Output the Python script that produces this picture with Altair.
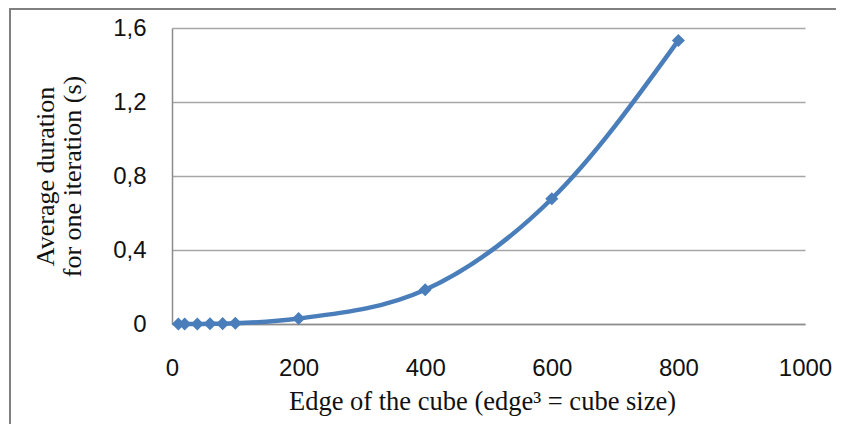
import altair as alt
import pandas as pd

edge = [10, 20, 40, 60, 80, 100, 200, 400, 600, 800]
duration = [0.0, 0.0, 0.0005, 0.001, 0.002, 0.004, 0.03, 0.185, 0.677, 1.533]

df = pd.DataFrame({"edge": edge, "duration": duration})

x_ticks = [0, 200, 400, 600, 800, 1000]
y_ticks = [0, 0.4, 0.8, 1.2, 1.6]

BLUE = "#4a7ebb"
TICK_FONT = "Liberation Sans"
TITLE_FONT = "Liberation Serif"

x_enc = alt.X(
    "edge:Q",
    scale=alt.Scale(domain=[0, 1000], nice=False),
    axis=alt.Axis(
        values=x_ticks,
        format="d",
        title="Edge of the cube (edge\u00b3 = cube size)",
        grid=False,
        ticks=False,
        domainColor="#8c8c8c",
        domainWidth=1.5,
        labelFont=TICK_FONT,
        labelFontSize=24,
        labelColor="#111111",
        labelPadding=32,
        labelFlush=False,
        titleFont=TITLE_FONT,
        titleFontSize=26.5,
        titleFontWeight="normal",
        titleColor="#111111",
        titleX=310,
        titleY=85,
        titleBaseline="alphabetic",
        titleAlign="center",
    ),
)

y_enc = alt.Y(
    "duration:Q",
    scale=alt.Scale(domain=[0, 1.6], nice=False),
    axis=alt.Axis(
        values=y_ticks,
        labelExpr="datum.value == 0 ? '0' : replace(format(datum.value, '.1f'), '.', ',')",
        title=["Average duration", "for one iteration (s)"],
        grid=True,
        gridColor="#a6a6a6",
        gridWidth=1.5,
        ticks=False,
        domainColor="#8c8c8c",
        domainWidth=1.5,
        labelFont=TICK_FONT,
        labelFontSize=24,
        labelColor="#111111",
        labelPadding=26,
        labelFlush=False,
        titleFont=TITLE_FONT,
        titleFontSize=26,
        titleFontWeight="normal",
        titleColor="#111111",
        titleAngle=-90,
        titleX=-119,
        titleY=148,
        titleBaseline="alphabetic",
        titleAlign="center",
        titleLineHeight=27,
    ),
)

line = alt.Chart(df).mark_line(
    interpolate="monotone", color=BLUE, strokeWidth=4.5
).encode(x=x_enc, y=y_enc)

points = alt.Chart(df).mark_point(
    shape="diamond", filled=True, color=BLUE, size=170, opacity=1
).encode(x="edge:Q", y="duration:Q")

frame = alt.Chart(alt.Data(values=[{"a": 1}])).mark_rect(
    fill=None, stroke="#808080", strokeWidth=2
).encode(
    x=alt.value(-162), x2=alt.value(800),
    y=alt.value(-19), y2=alt.value(400),
)

chart = alt.layer(frame, line, points).properties(
    width=633,
    height=296,
    autosize=alt.AutoSizeParams(type="none"),
    padding={"left": 164, "top": 20, "right": 31, "bottom": 100},
).configure_view(stroke=None)

chart.save("out.html", embed_options={"renderer": "svg", "actions": False})
